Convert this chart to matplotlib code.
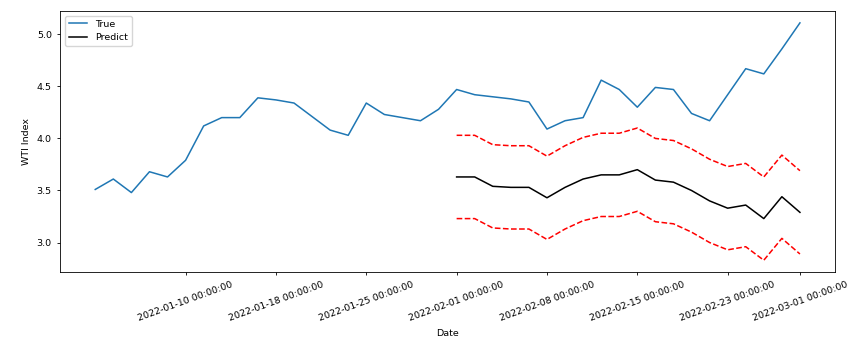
import numpy as np
import pandas as pd
import matplotlib
matplotlib.use("Agg")
import matplotlib.pyplot as plt

# trading days 2022-01-03 .. 2022-03-01 (MLK day and Presidents day closed)
dates = [d for d in pd.bdate_range("2022-01-03", "2022-03-01")
         if d not in (pd.Timestamp("2022-01-17"), pd.Timestamp("2022-02-21"))]

true_vals = [3.51, 3.61, 3.48, 3.68, 3.63, 3.79, 4.12, 4.20, 4.20, 4.39,
             4.37, 4.34, 4.21, 4.08, 4.03, 4.34, 4.23, 4.20, 4.17, 4.28,
             4.47, 4.42, 4.40, 4.38, 4.35, 4.09, 4.17, 4.20, 4.56, 4.47,
             4.30, 4.49, 4.47, 4.24, 4.17, 4.42, 4.67, 4.62, 4.86, 5.11]

pred_start = 20  # 2022-02-01
pred_vals = [3.63, 3.63, 3.54, 3.53, 3.53, 3.43, 3.53, 3.61, 3.65, 3.65,
             3.70, 3.60, 3.58, 3.50, 3.40, 3.33, 3.36, 3.23, 3.44, 3.29]
upper_vals = [4.03, 4.03, 3.94, 3.93, 3.93, 3.83, 3.93, 4.01, 4.05, 4.05,
              4.10, 4.00, 3.98, 3.90, 3.80, 3.73, 3.76, 3.63, 3.84, 3.69]
lower_vals = [3.23, 3.23, 3.14, 3.13, 3.13, 3.03, 3.13, 3.21, 3.25, 3.25,
              3.30, 3.20, 3.18, 3.10, 3.00, 2.93, 2.96, 2.83, 3.04, 2.89]

tick_dates = ["2022-01-10", "2022-01-18", "2022-01-25", "2022-02-01",
              "2022-02-08", "2022-02-15", "2022-02-23", "2022-03-01"]

plt.rcParams['font.size'] = 6.8

fig, ax = plt.subplots(figsize=(8.61, 3.44), dpi=100)
fig.subplots_adjust(left=0.0697, right=0.970, bottom=0.209, top=0.968)

x_true = np.arange(len(true_vals))
x_pred = np.arange(pred_start, pred_start + len(pred_vals))

ax.plot(x_true, true_vals, color="tab:blue", lw=1.1, label="True")
ax.plot(x_pred, pred_vals, color="black", lw=1.1, label="Predict")
ax.plot(x_pred, upper_vals, "r--", lw=1.1)
ax.plot(x_pred, lower_vals, "r--", lw=1.1)

date_str = [str(d) for d in dates]
tick_pos = [date_str.index(t + " 00:00:00") for t in tick_dates]
ax.set_xticks(tick_pos)
ax.set_xticklabels([t + " 00:00:00" for t in tick_dates], rotation=20)

ax.tick_params(length=2.4, width=0.6)
for s in ax.spines.values():
    s.set_linewidth(0.6)

ax.set_xlabel("Date")
ax.set_ylabel("WTI Index")
ax.legend(loc="upper left")

plt.savefig("out.png", dpi=100)
